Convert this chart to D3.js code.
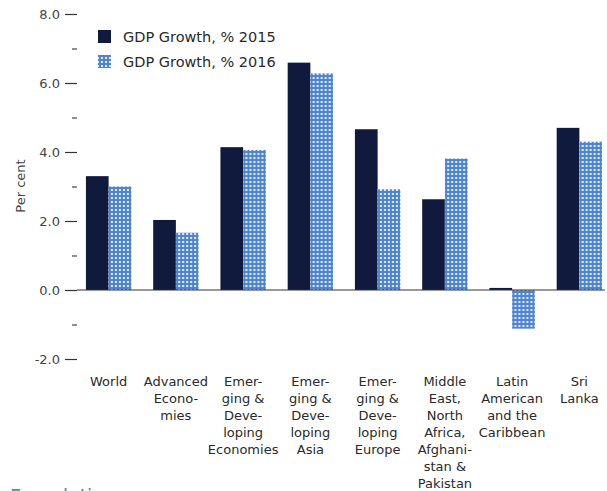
<!DOCTYPE html>
<html>
<head>
<meta charset="utf-8">
<script src="https://cdn.jsdelivr.net/npm/d3@7"></script>
<style>
  html, body { margin: 0; padding: 0; background: #fff; overflow: hidden; }
  svg { display: block; }
  text { font-family: "DejaVu Sans", sans-serif; fill: #2a2a2a; }
</style>
</head>
<body>
<svg id="chart" width="607" height="491"></svg>
<script>
const categories = [
  "World",
  "Advanced\nEcono-\nmies",
  "Emer-\nging &\nDeve-\nloping\nEconomies",
  "Emer-\nging &\nDeve-\nloping\nAsia",
  "Emer-\nging &\nDeve-\nloping\nEurope",
  "Middle\nEast,\nNorth\nAfrica,\nAfghani-\nstan &\nPakistan",
  "Latin\nAmerican\nand the\nCaribbean",
  "Sri\nLanka"
];
const seriesNames = ["GDP Growth, % 2015", "GDP Growth, % 2016"];
const gdp2015 = [3.3, 2.03, 4.14, 6.59, 4.66, 2.63, 0.06, 4.7];
const gdp2016 = [3.0, 1.66, 4.06, 6.28, 2.92, 3.81, -1.12, 4.3];
const majorTicks = [-2, 0, 2, 4, 6, 8];
const minorTicks = [-1, 1, 3, 5, 7];
const ylabel = "Per cent";
const footText = "Foundation";

const svg = d3.select("#chart");
const defs = svg.append("defs");
const pat = defs.append("pattern").attr("id", "check")
  .attr("patternUnits", "userSpaceOnUse").attr("width", 4).attr("height", 4);
pat.append("rect").attr("width", 4).attr("height", 4).attr("fill", "#4f84cf");
pat.append("rect").attr("x", 1).attr("y", 1).attr("width", 2).attr("height", 2).attr("fill", "#e2ebf8");

const colors = ["#101a3c", "url(#check)"];

const y = d3.scaleLinear().domain([-2, 8]).range([359, 14]);
const x0 = d3.scaleBand().domain(categories).range([75, 613]).paddingInner(0.325).paddingOuter(0.1625);
const x1 = d3.scaleBand().domain([0, 1]).range([0, x0.bandwidth()]);

// y axis ticks (no domain line)
const fmt = d => d < 0 ? "-" + d3.format(".1f")(-d) : d3.format(".1f")(d);
const yAxis = d3.axisLeft(y).tickValues(majorTicks).tickSize(12).tickPadding(5).tickFormat(fmt);
const gy = svg.append("g").attr("transform", "translate(77,0)").call(yAxis);
gy.select(".domain").remove();
gy.selectAll(".tick line").attr("stroke", "#333").attr("stroke-width", 1.2);
gy.selectAll(".tick text").style("font-size", "13px").style("fill", "#444")
  .style("font-family", "DejaVu Sans, sans-serif");

const gmin = svg.append("g").attr("transform", "translate(77,0)")
  .call(d3.axisLeft(y).tickValues(minorTicks).tickSize(5).tickFormat(""));
gmin.select(".domain").remove();
gmin.selectAll(".tick line").attr("stroke", "#444").attr("stroke-width", 1.2);

// bars
const groups = svg.append("g").selectAll("g").data(categories).join("g")
  .attr("transform", d => `translate(${x0(d)},0)`);
groups.selectAll("rect").data((d, i) => [gdp2015[i], gdp2016[i]]).join("rect")
  .attr("x", (d, j) => x1(j))
  .attr("width", x1.bandwidth())
  .attr("y", d => y(Math.max(0, d)))
  .attr("height", d => Math.abs(y(d) - y(0)))
  .attr("fill", (d, j) => colors[j]);

// zero line
svg.append("line").attr("x1", 77).attr("x2", 605).attr("y1", y(0)).attr("y2", y(0))
  .attr("stroke", "#333").attr("stroke-width", 1.2);

// x labels
const xl = svg.append("g");
categories.forEach(c => {
  const cx = x0(c) + x0.bandwidth() / 2;
  const t = xl.append("text").attr("text-anchor", "middle")
    .attr("x", cx).attr("y", 386).style("font-size", "13px");
  c.split("\n").forEach((line, k) => {
    t.append("tspan").attr("x", cx).attr("dy", k === 0 ? 0 : 17).text(line);
  });
});

// y label
svg.append("text").attr("transform", "translate(25,186) rotate(-90)")
  .attr("text-anchor", "middle").style("font-size", "13px").style("fill", "#444").text(ylabel);

// legend
const lg = svg.append("g");
seriesNames.forEach((s, i) => {
  lg.append("rect").attr("x", 98).attr("y", 30 + i * 25).attr("width", 13).attr("height", 13)
    .attr("fill", colors[i]);
  lg.append("text").attr("x", 123).attr("y", 42 + i * 25).style("font-size", "14.5px").text(s);
});

// partial footer text (cut off at the bottom edge, as in the reference)
svg.append("text").attr("x", 10).attr("y", 503).style("font-size", "19px")
  .style("fill", "#5a86c2").text(footText);
</script>
</body>
</html>
